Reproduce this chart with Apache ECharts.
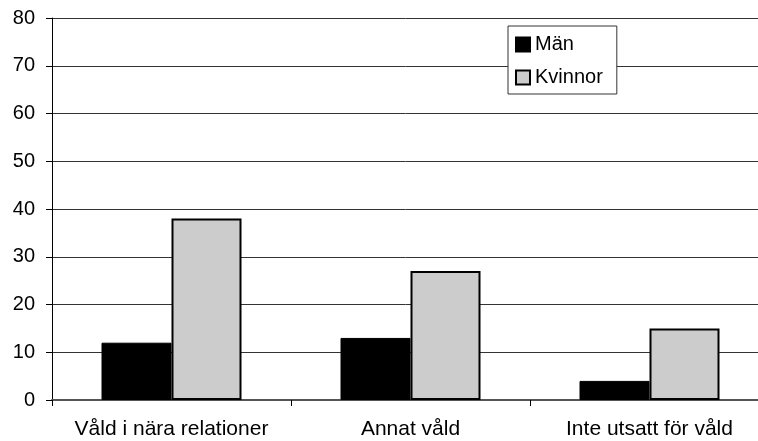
<!DOCTYPE html>
<html>
<head>
<meta charset="utf-8">
<script src="https://cdn.jsdelivr.net/npm/echarts@6/dist/echarts.min.js"></script>
<style>
  html, body { margin: 0; padding: 0; background: #fff; }
  #chart { width: 758px; height: 441px; }
</style>
</head>
<body>
<div id="chart"></div>
<script>
const categories = ['Våld i nära relationer', 'Annat våld', 'Inte utsatt för våld'];
const manValues = [12, 13, 4];
const kvinnorValues = [38, 27, 15];

const font = 'Liberation Sans, Arial, sans-serif';

let chart = echarts.init(document.getElementById('chart'));
chart.setOption({
  animation: false,
  backgroundColor: '#fff',
  textStyle: { fontFamily: font },
  grid: {
    left: 52,
    top: 18,
    width: 717,
    height: 382,
    // plot area runs past the right edge, like the original
    outerBoundsMode: 'none'
  },
  legend: {
    orient: 'vertical',
    left: 508,
    top: 26,
    padding: [8, 14, 6, 7],
    itemGap: 12,
    itemWidth: 14,
    itemHeight: 14,
    icon: 'rect',
    backgroundColor: '#fff',
    borderColor: '#333',
    borderWidth: 1,
    textStyle: { fontSize: 20, lineHeight: 21, color: '#000', fontFamily: font },
    data: ['Män', 'Kvinnor']
  },
  xAxis: {
    type: 'category',
    data: categories,
    axisLine: { lineStyle: { color: '#555', width: 2 } },
    axisTick: { show: true, interval: 0, length: 6, lineStyle: { color: '#000' } },
    axisLabel: { interval: 0, fontSize: 21, color: '#000', margin: 19, fontFamily: font }
  },
  yAxis: {
    type: 'value',
    min: 0,
    max: 80,
    interval: 10,
    axisLine: { show: true, lineStyle: { color: '#000', width: 1 } },
    axisTick: { show: true, length: 6, lineStyle: { color: '#000' } },
    axisLabel: { fontSize: 20, color: '#000', margin: 17, fontFamily: font },
    splitLine: { lineStyle: { color: '#333', width: 1 } }
  },
  series: [
    {
      name: 'Män',
      type: 'bar',
      data: manValues,
      barWidth: 70,
      barGap: '0%',
      itemStyle: { color: '#000', borderColor: '#000', borderWidth: 1 }
    },
    {
      name: 'Kvinnor',
      type: 'bar',
      data: kvinnorValues,
      barWidth: 70,
      itemStyle: { color: '#cccccc', borderColor: '#000', borderWidth: 2 }
    }
  ]
});
</script>
</body>
</html>
